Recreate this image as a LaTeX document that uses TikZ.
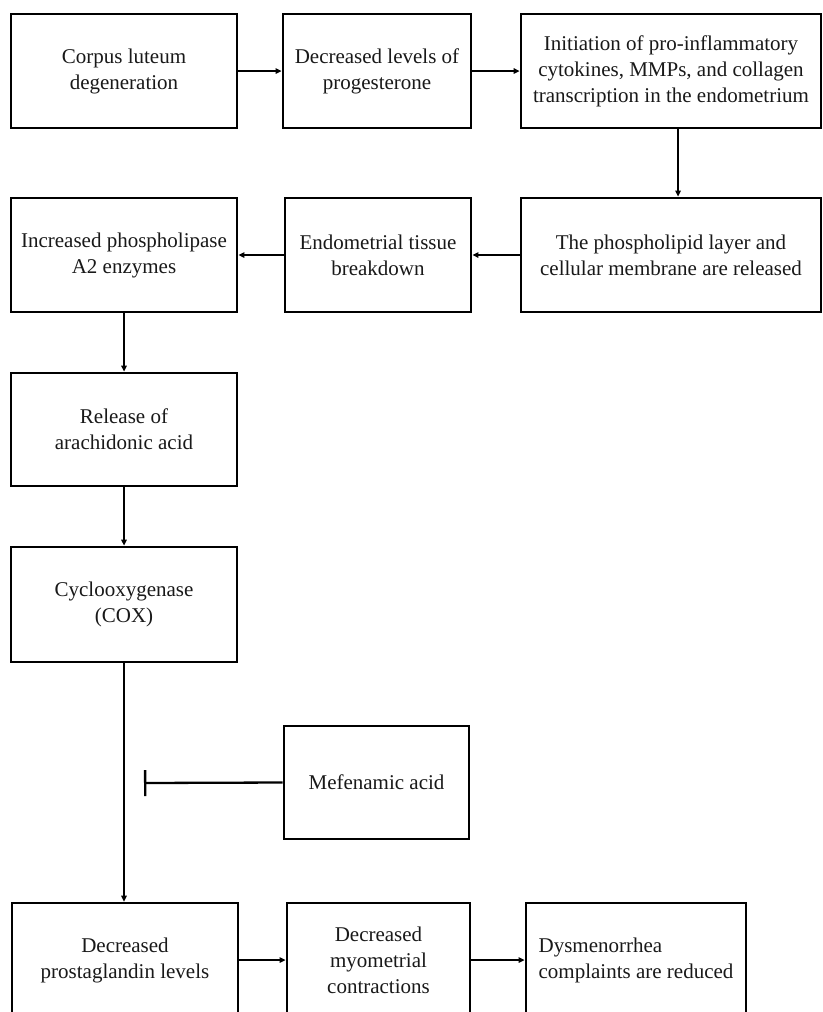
\documentclass[tikz,border=0pt]{standalone}
\usepackage{fontspec}
\setmainfont{Liberation Serif}
\usetikzlibrary{arrows.meta}
\begin{document}
\begin{tikzpicture}[x=1pt,y=-1pt,
  box/.style={draw=black, line width=2.8pt, align=center, inner sep=2pt,
    font=\fontsize{21}{26}\selectfont, text=black!90},
  arr/.style={line width=1.3pt, -{Triangle[length=6pt,width=5.5pt]}},
  inhib/.style={line width=2.3pt, -{Bar[width=26pt,line width=2.3pt]}}]
\useasboundingbox (0,0) rectangle (822,1012);
\clip (0,0) rectangle (822,1012);
\fill[white] (0,0) rectangle (822,1012);
% row 1
\node[box, minimum width=226pt, minimum height=114pt] (b1) at (124,71) {Corpus luteum\\degeneration};
\node[box, minimum width=188pt, minimum height=114pt] (b2) at (377,71) {Decreased levels of\\progesterone};
\node[box, minimum width=300pt, minimum height=114pt] (b3) at (671,71) {Initiation of pro-inflammatory\\cytokines, MMPs, and collagen\\transcription in the endometrium};
% row 2
\node[box, minimum width=300pt, minimum height=114pt] (b4) at (671,255) {The phospholipid layer and\\cellular membrane are released};
\node[box, minimum width=186pt, minimum height=114pt] (b5) at (378,255) {Endometrial tissue\\breakdown};
\node[box, minimum width=226pt, minimum height=114pt] (b6) at (124,255) {Increased phospholipase\\A2 enzymes};
% column
\node[box, minimum width=226pt, minimum height=113pt] (b7) at (124,429.5) {Release of\\arachidonic acid};
\node[box, minimum width=226pt, minimum height=115pt] (b8) at (124,604.5) {Cyclooxygenase\\(COX)};
\node[box, minimum width=185pt, minimum height=113pt] (mef) at (376.5,782.5) {Mefenamic acid};
% bottom row
\node[box, minimum width=226pt, minimum height=114pt] (c1) at (125,960) {Decreased\\prostaglandin levels};
\node[box, minimum width=183pt, minimum height=114pt] (c2) at (378.5,960) {Decreased\\myometrial\\contractions};
\node[box, minimum width=220pt, minimum height=114pt, align=left] (c3) at (636,960) {Dysmenorrhea\\complaints are reduced};
% connectors
\draw[arr] (b1.east) -- (b2.west);
\draw[arr] (b2.east) -- (b3.west);
\draw[arr] ([xshift=7pt]b3.south) -- ([xshift=7pt]b4.north);
\draw[arr] (b4.west) -- (b5.east);
\draw[arr] (b5.west) -- (b6.east);
\draw[arr] (b6.south) -- (b7.north);
\draw[arr] (b7.south) -- (b8.north);
\draw[arr] (b8.south) -- (b8.south |- c1.north);
\coordinate (inh) at (144,783);
\draw[inhib] (mef.west) -- (inh);
\draw[arr] (c1.east) -- (c2.west);
\draw[arr] (c2.east) -- (c3.west);
\end{tikzpicture}
\end{document}
